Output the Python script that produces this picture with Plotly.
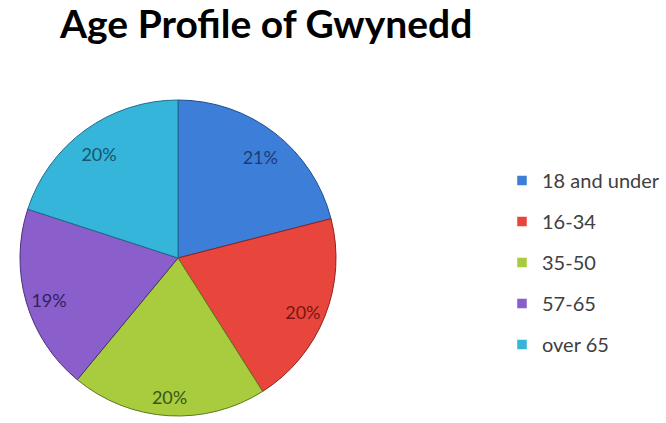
import plotly.graph_objects as go

# Age bands and their share of the population
age_groups = ["18 and under", "16-34", "35-50", "57-65", "over 65"]
shares = [21, 20, 20, 19, 20]

slice_colors = ["#3D7ED8", "#E8463D", "#A9CB3E", "#8A5FCB", "#35B5DA"]
edge_colors = ["#1F4E8F", "#8E2320", "#5E7A1C", "#4A2F7A", "#1C6E88"]
label_colors = ["#1B3C78", "#7A1512", "#38561A", "#33205F", "#17566C"]

W, H = 666, 423
pie_domain = dict(x=[20 / W, 336 / W], y=[(H - 416) / H, (H - 100) / H])
# label ring sits slightly lower than the filled pie
label_domain = dict(x=[20 / W, 336 / W], y=[(H - 421) / H, (H - 105) / H])

fig = go.Figure()

# Filled pie slices
fig.add_trace(go.Pie(
    labels=age_groups,
    values=shares,
    sort=False,
    direction="clockwise",
    rotation=0,
    marker=dict(colors=slice_colors, line=dict(color=edge_colors, width=1)),
    textinfo="none",
    hoverinfo="label+percent",
    showlegend=False,
    domain=pie_domain,
))

# Transparent ring on top that carries the percentage labels near the rim
fig.add_trace(go.Pie(
    labels=age_groups,
    values=shares,
    sort=False,
    direction="clockwise",
    rotation=0,
    hole=0.7,
    marker=dict(colors=["rgba(0,0,0,0)"] * len(age_groups), line=dict(width=0)),
    textinfo="percent",
    texttemplate="%{percent:.0%}",
    textposition="inside",
    insidetextorientation="horizontal",
    textfont=dict(family="Lato, sans-serif", size=18, color=label_colors),
    hoverinfo="skip",
    showlegend=False,
    domain=label_domain,
))

# Legend entries for each age band
for name, col in zip(age_groups, slice_colors):
    fig.add_trace(go.Scatter(
        x=[None], y=[None], mode="markers", name=name,
        legendgroup=name,
        marker=dict(symbol="square", size=10, color=col,
                    line=dict(color="#FFFFFF", width=0.5)),
        hoverinfo="skip",
    ))

fig.update_layout(
    width=W,
    height=H,
    margin=dict(l=0, r=0, t=0, b=0),
    paper_bgcolor="#FFFFFF",
    plot_bgcolor="#FFFFFF",
    title=dict(
        text="<b>Age Profile of Gwynedd</b>",
        font=dict(family="Lato, sans-serif", size=39, color="#000000"),
        x=60 / W, xanchor="left", xref="paper",
        y=1 - 11 / H, yanchor="top", yref="container",
        pad=dict(t=0, b=0, l=0, r=0),
    ),
    xaxis=dict(visible=False),
    yaxis=dict(visible=False),
    legend=dict(
        x=502 / W, xanchor="left",
        y=1 - 161 / H, yanchor="top",
        font=dict(family="Lato, sans-serif", size=20, color="#404040"),
        tracegroupgap=12,
        bgcolor="rgba(0,0,0,0)",
    ),
)

fig.write_html("out.html")
